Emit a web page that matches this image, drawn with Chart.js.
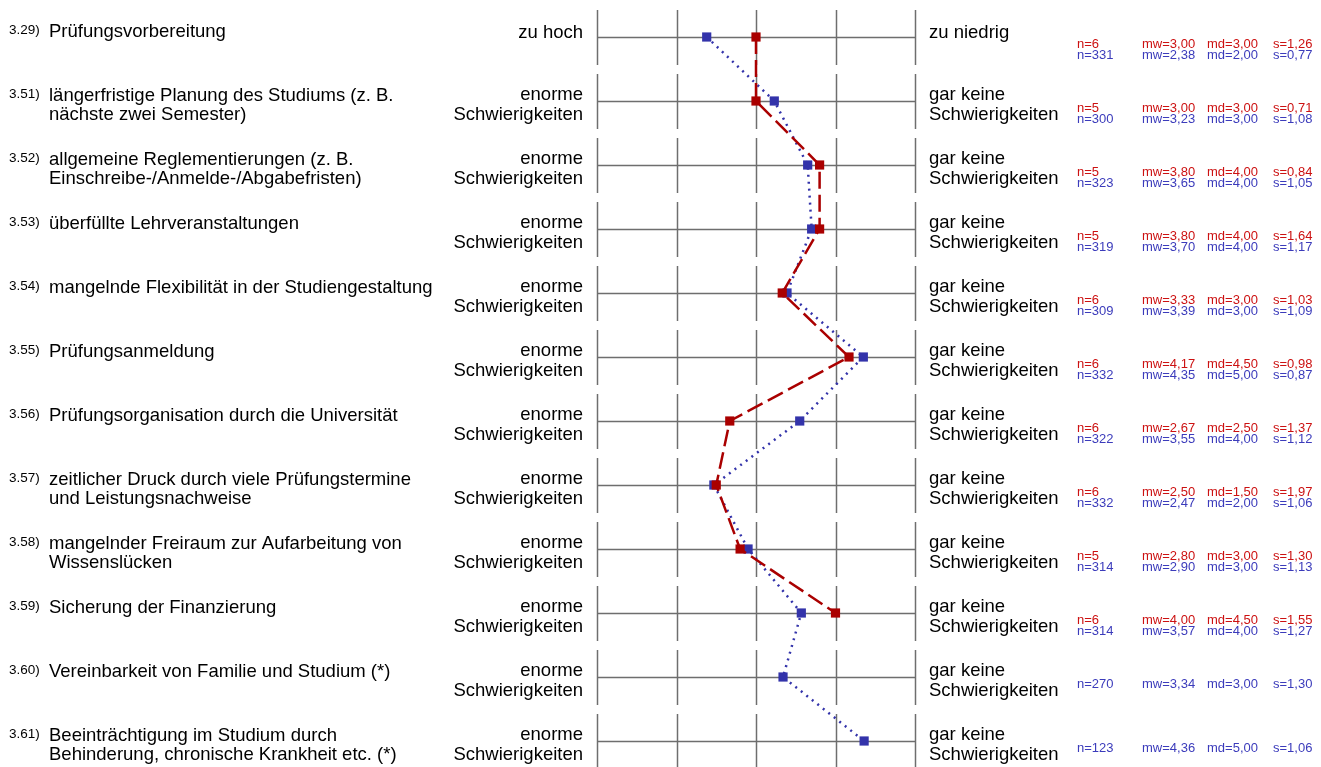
<!DOCTYPE html>
<html>
<head>
<meta charset="utf-8">
<script src="https://cdn.jsdelivr.net/npm/chart.js@4"></script>
<style>
  html, body { margin: 0; padding: 0; background: #fff; overflow: hidden; }
  #wrap { width: 1321px; height: 767px; }
</style>
</head>
<body>
<div id="wrap"><canvas id="c" width="1321" height="767"></canvas></div>
<script>
// ── data ─────────────────────────────────────────────────────────
const itemNo = ['3.29)', '3.51)', '3.52)', '3.53)', '3.54)', '3.55)', '3.56)', '3.57)', '3.58)', '3.59)', '3.60)', '3.61)'];
const itemText = [
  ['Prüfungsvorbereitung'],
  ['längerfristige Planung des Studiums (z. B.', 'nächste zwei Semester)'],
  ['allgemeine Reglementierungen (z. B.', 'Einschreibe-/Anmelde-/Abgabefristen)'],
  ['überfüllte Lehrveranstaltungen'],
  ['mangelnde Flexibilität in der Studiengestaltung'],
  ['Prüfungsanmeldung'],
  ['Prüfungsorganisation durch die Universität'],
  ['zeitlicher Druck durch viele Prüfungstermine', 'und Leistungsnachweise'],
  ['mangelnder Freiraum zur Aufarbeitung von', 'Wissenslücken'],
  ['Sicherung der Finanzierung'],
  ['Vereinbarkeit von Familie und Studium (*)'],
  ['Beeinträchtigung im Studium durch', 'Behinderung, chronische Krankheit etc. (*)'],
];
const leftPole  = [['zu hoch']].concat(Array(11).fill(['enorme', 'Schwierigkeiten']));
const rightPole = [['zu niedrig']].concat(Array(11).fill(['gar keine', 'Schwierigkeiten']));

// group (red) — last two items not asked
const redN  = [6, 5, 5, 5, 6, 6, 6, 6, 5, 6, null, null];
const redMw = [3.00, 3.00, 3.80, 3.80, 3.33, 4.17, 2.67, 2.50, 2.80, 4.00, null, null];
const redMd = [3.00, 3.00, 4.00, 4.00, 3.00, 4.50, 2.50, 1.50, 3.00, 4.50, null, null];
const redS  = [1.26, 0.71, 0.84, 1.64, 1.03, 0.98, 1.37, 1.97, 1.30, 1.55, null, null];

// comparison (blue)
const blueN  = [331, 300, 323, 319, 309, 332, 322, 332, 314, 314, 270, 123];
const blueMw = [2.38, 3.23, 3.65, 3.70, 3.39, 4.35, 3.55, 2.47, 2.90, 3.57, 3.34, 4.36];
const blueMd = [2.00, 3.00, 4.00, 4.00, 3.00, 5.00, 4.00, 2.00, 3.00, 4.00, 3.00, 5.00];
const blueS  = [0.77, 1.08, 1.05, 1.17, 1.09, 0.87, 1.12, 1.06, 1.13, 1.27, 1.30, 1.06];

const scaleTicks = [1, 2, 3, 4, 5];

// ── style ────────────────────────────────────────────────────────
const COL = { red: '#aa0000', blue: '#3333aa', redTxt: '#cc1111', blueTxt: '#3b3bbb', grid: '#6e6e6e' };
const FONT = '"Liberation Sans", Arial, sans-serif';
const fmtDe = v => v.toFixed(2).replace('.', ',');
const toPts = arr => arr.map((v, i) => (v == null ? null : { x: v, y: i })).filter(p => p);

// ── grid: per item a horizontal bar with five ticks ──────────────
const profileGrid = {
  id: 'profileGrid',
  beforeDatasetsDraw(chart) {
    const { ctx, scales: { x, y } } = chart;
    ctx.save();
    ctx.strokeStyle = COL.grid;
    ctx.lineWidth = 1.5;
    itemNo.forEach((_, i) => {
      const cy = Math.round(y.getPixelForValue(i)) + 0.5;
      ctx.beginPath();
      ctx.moveTo(x.getPixelForValue(scaleTicks[0]), cy);
      ctx.lineTo(x.getPixelForValue(scaleTicks[scaleTicks.length - 1]), cy);
      ctx.stroke();
      scaleTicks.forEach(t => {
        const px = Math.round(x.getPixelForValue(t)) + 0.5;
        ctx.beginPath();
        ctx.moveTo(px, cy - 27.5);
        ctx.lineTo(px, cy + 27.5);
        ctx.stroke();
      });
    });
    ctx.restore();
  },
};

// ── texts: item labels, poles, statistics ────────────────────────
const profileText = {
  id: 'profileText',
  afterDraw(chart) {
    const { ctx, scales: { x, y } } = chart;
    const xl = x.getPixelForValue(1), xr = x.getPixelForValue(5);
    ctx.save();
    ctx.textBaseline = 'alphabetic';
    itemNo.forEach((no, i) => {
      const cy = y.getPixelForValue(i);

      ctx.fillStyle = '#000';
      ctx.textAlign = 'left';
      ctx.font = `13.5px ${FONT}`;
      ctx.fillText(no, 9, cy - 3);

      ctx.font = `18.5px ${FONT}`;
      itemText[i].forEach((t, k) => ctx.fillText(t, 49, cy + k * 19));

      const two = leftPole[i].length > 1;
      ctx.textAlign = 'right';
      leftPole[i].forEach((t, k) => ctx.fillText(t, xl - 14, cy + (two ? -1 : 1) + k * 20));
      ctx.textAlign = 'left';
      rightPole[i].forEach((t, k) => ctx.fillText(t, xr + 14, cy + (two ? -1 : 1) + k * 20));

      ctx.font = `13px ${FONT}`;
      const rows = [];
      if (redN[i] != null) rows.push([COL.redTxt, redN[i], redMw[i], redMd[i], redS[i]]);
      rows.push([COL.blueTxt, blueN[i], blueMw[i], blueMd[i], blueS[i]]);
      rows.forEach(([c, n, mw, md, s], k) => {
        const by = cy + 10.5 + k * 11.5;
        ctx.fillStyle = c;
        ctx.fillText('n=' + n, 1077, by);
        ctx.fillText('mw=' + fmtDe(mw), 1142, by);
        ctx.fillText('md=' + fmtDe(md), 1207, by);
        ctx.fillText('s=' + fmtDe(s), 1273, by);
      });
    });
    ctx.restore();
  },
};

new Chart(document.getElementById('c'), {
  type: 'line',
  data: {
    datasets: [
      {
        label: 'Gruppe',
        data: toPts(redMw),
        borderColor: COL.red,
        borderWidth: 2.5,
        borderDash: [17, 6],
        pointStyle: 'rect',
        pointRadius: 6.5,
        pointBorderWidth: 0,
        pointBackgroundColor: COL.red,
        tension: 0,
      },
      {
        label: 'Vergleich',
        data: toPts(blueMw),
        borderColor: COL.blue,
        borderWidth: 2.5,
        borderDash: [2, 5],
        pointStyle: 'rect',
        pointRadius: 6.5,
        pointBorderWidth: 0,
        pointBackgroundColor: COL.blue,
        tension: 0,
      },
    ],
  },
  options: {
    responsive: false,
    animation: false,
    devicePixelRatio: 1,
    clip: false,
    layout: { autoPadding: false, padding: { left: 597, right: 406, top: 5, bottom: 0 } },
    scales: {
      x: { type: 'linear', min: 1, max: 5, display: false },
      y: { type: 'linear', min: -0.5, max: 11.40625, reverse: true, display: false },
    },
    plugins: { legend: { display: false }, tooltip: { enabled: false } },
  },
  plugins: [profileGrid, profileText],
});
</script>
</body>
</html>
